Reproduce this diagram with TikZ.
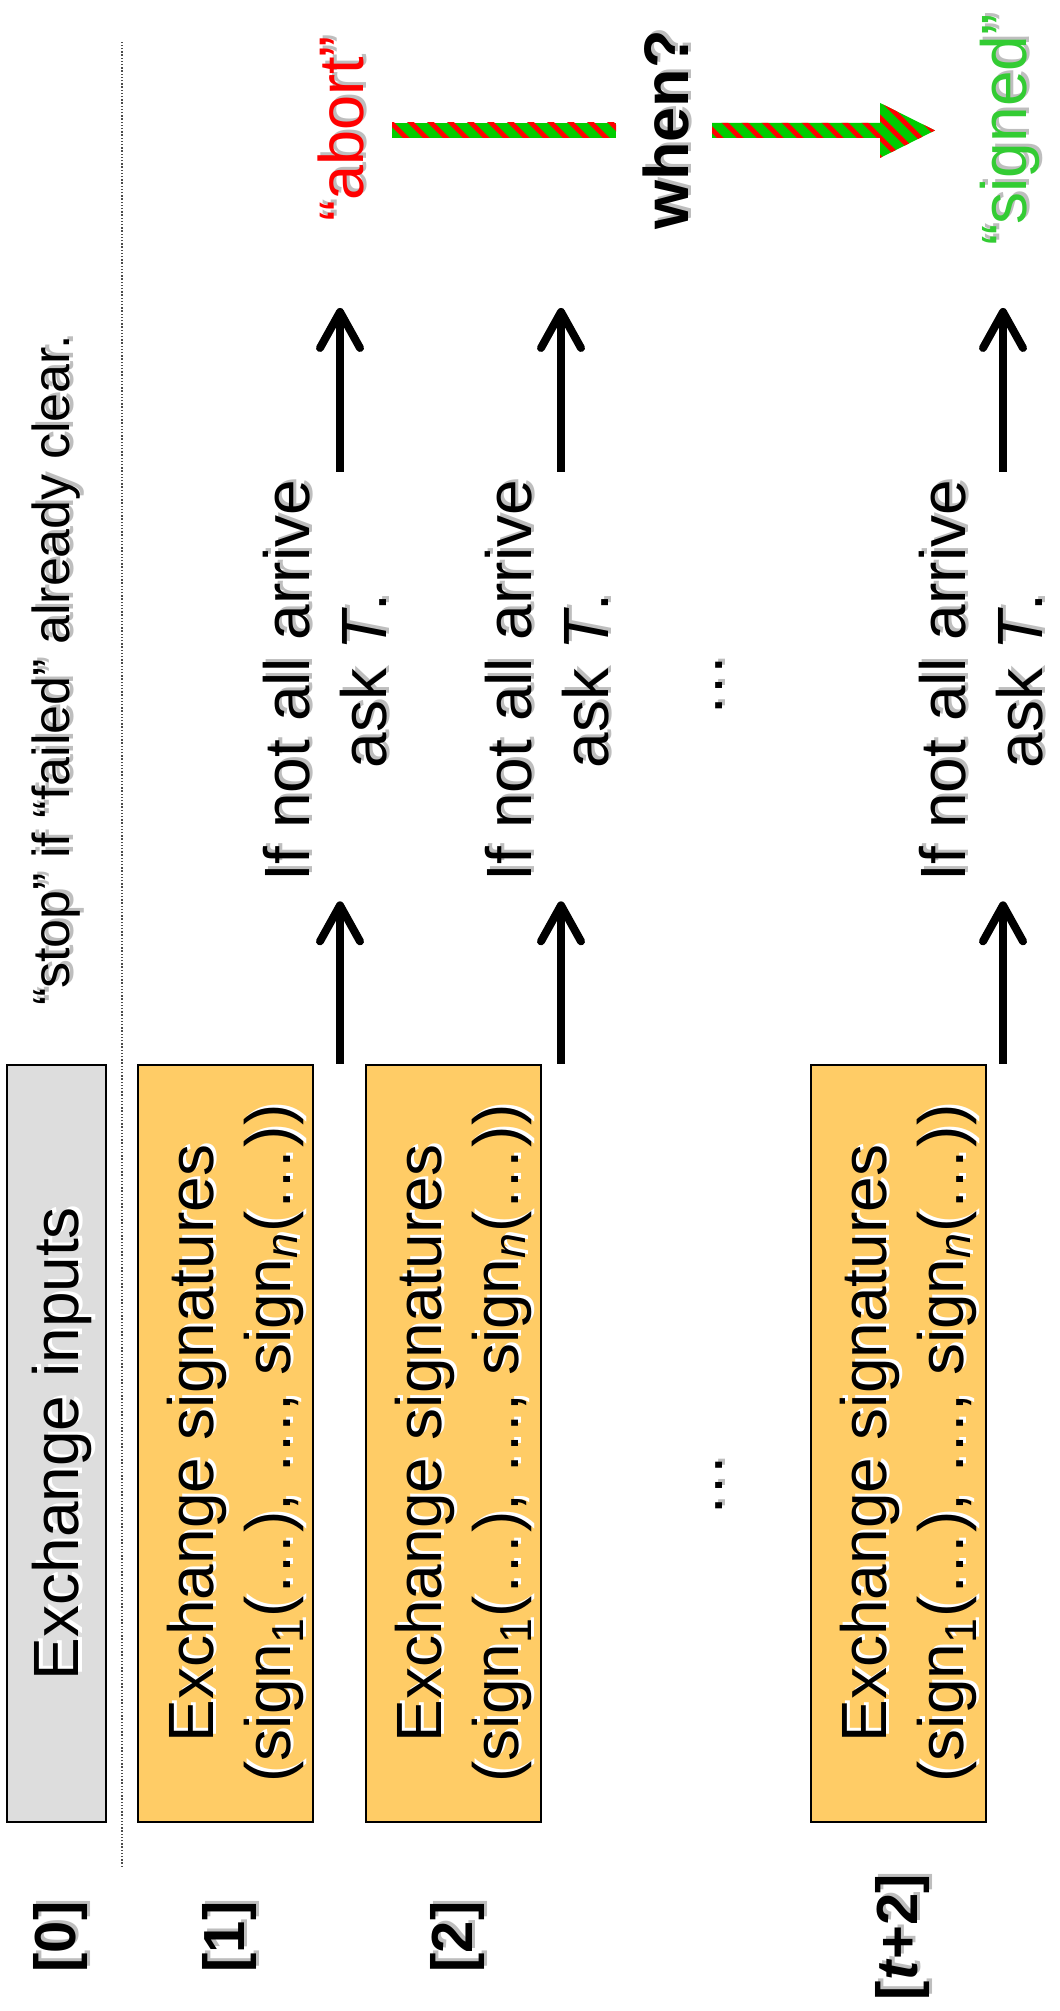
\documentclass[tikz,border=0pt]{standalone}
\usepackage{fontspec}
\setmainfont{Liberation Sans}
\usetikzlibrary{arrows.meta,patterns.meta}

\definecolor{boxyellow}{HTML}{FFCC66}
\definecolor{boxgray}{HTML}{DDDDDD}
\definecolor{shadowgray}{HTML}{BEBEBE}
\definecolor{abortred}{HTML}{FF0000}
\definecolor{signedgreen}{HTML}{33CC33}
\definecolor{stripegreen}{HTML}{00CC00}

% text with a drop shadow (grey outside, white on the boxes)
\newcommand{\shd}[1]{\rlap{\textcolor{shadowgray}{\kern1.5pt\raisebox{-1.5pt}{#1}}}#1}
\newcommand{\shw}[1]{\rlap{\textcolor{white}{\kern1.5pt\raisebox{-1.5pt}{#1}}}#1}
\newcommand{\boxstrut}{\rule{0pt}{34.4pt}}

\tikzset{
  slide/.style={rotate=90, inner sep=0pt},
  bigtext/.style={slide, font=\fontsize{32}{38.5}\selectfont},
  steplabel/.style={slide, anchor=base, font=\fontsize{29}{35}\selectfont\bfseries},
  inbox/.style={slide, draw=black, line width=1pt, fill=boxgray, minimum width=378.5pt, minimum height=49.5pt},
  sigbox/.style={slide, draw=black, line width=1pt, fill=boxyellow, minimum width=378.5pt, minimum height=87.5pt, align=center, font=\fontsize{32}{38.5}\selectfont},
  asktext/.style={bigtext, anchor=north, align=center},
  sendarrow/.style={line width=4pt, -{Straight Barb[length=18pt,width=20pt,round]}},
  sepline/.style={line width=0.7pt, dash pattern=on 0.7pt off 0.9pt, black!70},
  stripes/.style={preaction={fill=stripegreen}, pattern={Lines[angle=-45,distance=7.4pt,line width=2.6pt]}, pattern color=abortred}
}

\begin{document}
\begin{tikzpicture}[x=0.5pt, y=0.5pt]
\fill[white] (0,0) rectangle (1059,2011);
\useasboundingbox (0,0) rectangle (1059,2011);

% round 0
\node[inbox] (box0) at (56.5,567.5) {};
\node[bigtext, anchor=base] (inp) at (79,567.5) {\shw{Exchange inputs}};
\node[slide, anchor=base east, font=\fontsize{26}{31}\selectfont] (stop) at (70,1676) {\shd{“stop” if “failed” already clear.}};
\draw[sepline] (122,144) -- (122,1970);
\node[steplabel] (lab0) at (75,74) {\shd{[0]}};

% rounds 1, 2, ..., t+2
\node[sigbox] (box1) at (225.5,567.5) {\boxstrut\shw{Exchange signatures}\\\shw{(sign\textsubscript{1}(…), …, sign\textsubscript{\textit{n}}(…))}};
\node[sigbox] (box2) at (453.5,567.5) {\boxstrut\shw{Exchange signatures}\\\shw{(sign\textsubscript{1}(…), …, sign\textsubscript{\textit{n}}(…))}};
\node[sigbox] (boxt) at (898.5,567.5) {\boxstrut\shw{Exchange signatures}\\\shw{(sign\textsubscript{1}(…), …, sign\textsubscript{\textit{n}}(…))}};
\node[steplabel] (lab1) at (244.5,74) {\shd{[1]}};
\node[steplabel] (lab2) at (472.5,74) {\shd{[2]}};
\node[steplabel] (labt) at (917.5,74) {\shd{[\textit{t}+2]}};

\node[asktext] (ask1) at (263,1330) {\shd{If not all arrive}\\\shd{ask \textit{T}.}};
\node[asktext] (ask2) at (485,1330) {\shd{If not all arrive}\\\shd{ask \textit{T}.}};
\node[asktext] (askt) at (919,1330) {\shd{If not all arrive}\\\shd{ask \textit{T}.}};
\node[bigtext, anchor=base] (dots1) at (722,525) {\shd{…}};
\node[bigtext, anchor=base] (dots2) at (722,1325) {\shd{…}};

% outcomes
\node[slide, anchor=base, font=\fontsize{31.5}{38}\selectfont, text=abortred] (abort) at (363,1882) {\shd{“abort”}};
\node[slide, anchor=base, font=\fontsize{31.5}{38}\selectfont\bfseries] (when) at (688,1881) {\shd{when?}};
\node[slide, anchor=base, font=\fontsize{32}{38}\selectfont, text=signedgreen] (signed) at (1026,1881) {\shd{“signed”}};
\path[stripes] (392,1873) rectangle (616,1888);
\path[stripes] (712,1873) -- (880,1873) -- (880,1853) -- (935,1880.5) -- (880,1908) -- (880,1888) -- (712,1888) -- cycle;

% arrows
\coordinate (col1) at (340,0);
\coordinate (col2) at (561,0);
\coordinate (colt) at (1003,0);
\coordinate (reach) at (0,1703);
\draw[sendarrow, shorten >=9.5pt] (col1 |- box1.east) -- (col1 |- ask1.west);
\draw[sendarrow, shorten >=9.5pt] (col2 |- box2.east) -- (col2 |- ask2.west);
\draw[sendarrow, shorten >=9.5pt] (colt |- boxt.east) -- (colt |- askt.west);
\draw[sendarrow, shorten <=4pt] (col1 |- ask1.east) -- (col1 |- reach);
\draw[sendarrow, shorten <=4pt] (col2 |- ask2.east) -- (col2 |- reach);
\draw[sendarrow, shorten <=4pt] (colt |- askt.east) -- (colt |- reach);
\end{tikzpicture}
\end{document}
